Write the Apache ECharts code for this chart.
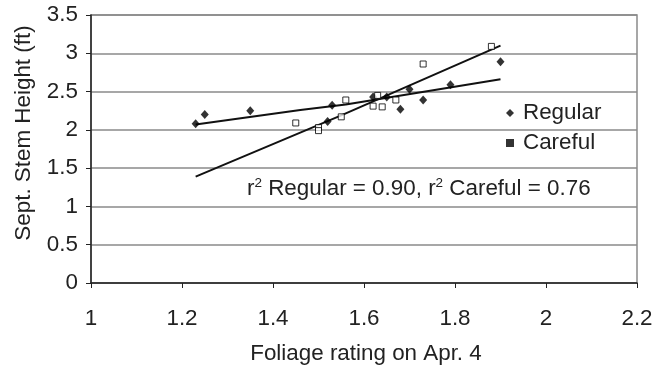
<!DOCTYPE html>
<html>
<head>
<meta charset="utf-8">
<script src="https://cdn.jsdelivr.net/npm/echarts@6/dist/echarts.min.js"></script>
<style>
html,body{margin:0;padding:0;background:#fff;}
#chart{width:656px;height:367px;}
</style>
</head>
<body>
<div id="chart"></div>
<script>
// Scatter data (Foliage rating on Apr. 4 vs Sept. stem height)
const regularX = [1.23, 1.25, 1.35, 1.52, 1.53, 1.62, 1.65, 1.68, 1.70, 1.73, 1.79, 1.90];
const regularY = [2.08, 2.20, 2.25, 2.11, 2.32, 2.43, 2.43, 2.27, 2.53, 2.39, 2.59, 2.89];
const carefulX = [1.45, 1.50, 1.50, 1.55, 1.56, 1.62, 1.63, 1.64, 1.67, 1.73, 1.88];
const carefulY = [2.09, 2.03, 1.99, 2.17, 2.39, 2.31, 2.45, 2.30, 2.39, 2.86, 3.09];
// Trend lines
const regTrendX = [1.23, 1.46, 1.56, 1.90];
const regTrendY = [2.07, 2.26, 2.33, 2.66];
const carTrendX = [1.23, 1.55, 1.90];
const carTrendY = [1.39, 2.19, 3.10];
const seriesNames = ['Regular', 'Careful'];
const xTitle = 'Foliage rating on Apr. 4';
const yTitle = 'Sept. Stem Height (ft)';

const zip = (xs, ys) => xs.map((x, i) => [x, ys[i]]);
const FONT = '"Liberation Sans", Arial, Helvetica, sans-serif';
const FS = 22.4;

const chart = echarts.init(document.getElementById('chart'), null, {renderer: 'canvas'});
chart.setOption({
  animation: false,
  backgroundColor: '#fff',
  grid: {left: 91, right: 19, top: 15, bottom: 84, show: true, borderColor: '#8a8a8a', borderWidth: 1.5},
  xAxis: {
    type: 'value', min: 1, max: 2.2, interval: 0.2,
    axisLine: {show: true, onZero: false, lineStyle: {color: '#222', width: 1.5}},
    axisTick: {show: true, inside: false, length: 5, lineStyle: {color: '#222', width: 1}},
    axisLabel: {color: '#222', fontSize: FS, fontFamily: FONT, margin: 25,
      formatter: v => String(Math.round(v * 10) / 10)},
    splitLine: {show: false}
  },
  yAxis: {
    type: 'value', min: 0, max: 3.5, interval: 0.5,
    axisLine: {show: true, onZero: false, lineStyle: {color: '#222', width: 1.5}},
    axisTick: {show: true, inside: false, length: 5, lineStyle: {color: '#222', width: 1}},
    axisLabel: {color: '#222', fontSize: FS, fontFamily: FONT, margin: 13,
      formatter: v => String(Math.round(v * 10) / 10)},
    splitLine: {show: true, lineStyle: {color: '#8a8a8a', width: 1.5}}
  },
  legend: {
    orient: 'vertical', left: 506, top: 102, padding: 0, itemWidth: 8, itemHeight: 8, itemGap: 8,
    textStyle: {color: '#222', fontSize: FS, fontFamily: FONT, lineHeight: 22, padding: [0, 0, 0, 4]},
    data: [
      {name: seriesNames[0], icon: 'diamond', itemStyle: {color: '#000', borderWidth: 0}},
      {name: seriesNames[1], icon: 'rect', itemStyle: {color: '#000', borderWidth: 0}}
    ]
  },
  series: [
    {name: seriesNames[0], type: 'scatter', symbol: 'diamond', symbolSize: [8, 9],
      itemStyle: {color: '#000'}, data: zip(regularX, regularY), z: 5},
    {name: seriesNames[1], type: 'scatter', symbol: 'rect', symbolSize: 6,
      itemStyle: {color: '#fff', borderColor: '#000', borderWidth: 1}, data: zip(carefulX, carefulY), z: 5},
    {name: 'regTrend', type: 'line', showSymbol: false, symbol: 'none', silent: true,
      lineStyle: {color: '#111', width: 2}, data: zip(regTrendX, regTrendY), z: 4},
    {name: 'carTrend', type: 'line', showSymbol: false, symbol: 'none', silent: true,
      lineStyle: {color: '#111', width: 2}, data: zip(carTrendX, carTrendY), z: 4}
  ]
});

const p0 = chart.convertToPixel({gridIndex: 0}, [1, 0]);
const p1 = chart.convertToPixel({gridIndex: 0}, [2.2, 3.5]);
chart.setOption({
  graphic: [
    {type: 'text', x: 24, y: 133, rotation: Math.PI / 2,
      style: {text: yTitle, fill: '#222', fontSize: FS, fontFamily: FONT, align: 'center', verticalAlign: 'middle'}},
    {type: 'text', x: (p0[0] + p1[0]) / 2 + 2, y: 354,
      style: {text: xTitle, fill: '#222', fontSize: FS, fontFamily: FONT, align: 'center', verticalAlign: 'middle'}},
    {type: 'text', x: 247, y: 189,
      style: {
        text: '{n|r}{s|2}{n| Regular = 0.90, r}{s|2}{n| Careful = 0.76}',
        align: 'left', verticalAlign: 'middle',
        rich: {
          n: {fontSize: FS, fontFamily: FONT, fill: '#222', lineHeight: 24},
          s: {fontSize: 13.5, fontFamily: FONT, fill: '#222', lineHeight: 24, padding: [0, 0, 11, 0]}
        }
      }}
  ]
});
</script>
</body>
</html>
